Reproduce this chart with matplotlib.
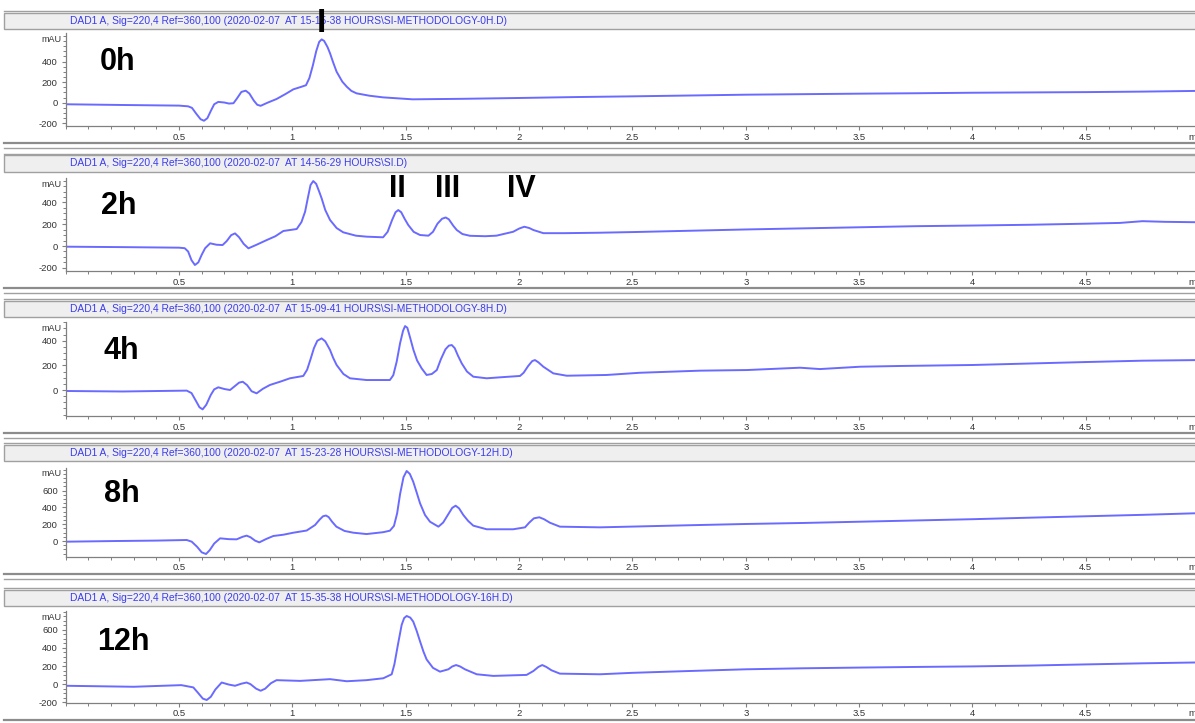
import matplotlib
matplotlib.use("Agg")
import matplotlib.pyplot as plt
from matplotlib.patches import Rectangle
from matplotlib.lines import Line2D
from matplotlib.ticker import FixedLocator, MultipleLocator
import matplotlib.transforms as mtrans

plt.rcParams['font.family'] = ['Liberation Sans', 'DejaVu Sans']

# retention time (min) / absorbance (mAU) for each run
t_0h = [0.00, 0.25, 0.50, 0.54, 0.557, 0.577, 0.595, 0.61, 0.625, 0.64, 0.655, 0.673, 0.70, 0.72,
        0.74, 0.755, 0.775, 0.794, 0.81, 0.83, 0.845, 0.86, 0.89, 0.93, 0.97, 1.004, 1.04,
        1.06, 1.075, 1.09, 1.105, 1.118, 1.129, 1.14, 1.155, 1.166, 1.18, 1.195, 1.22, 1.24,
        1.26, 1.283, 1.34, 1.40, 1.53, 1.75, 2.0, 2.25, 2.5, 2.75, 3.0, 3.25, 3.5, 3.75, 4.0,
        4.25, 4.5, 4.75, 5.0]
y_0h = [-15, -22, -28, -35, -50, -110, -160, -175, -150, -80, -15, 8, 2, -8,
        -5, 40, 105, 117, 90, 20, -20, -30, 0, 36, 85, 130, 155,
        170, 240, 360, 500, 590, 615, 600, 540, 480, 390, 301, 205, 155,
        115, 91, 68, 52, 33, 38, 46, 55, 62, 70, 78, 83, 88, 92, 97,
        100, 103, 108, 115]

t_2h = [0.00, 0.25, 0.50, 0.525, 0.54, 0.555, 0.57, 0.585, 0.60, 0.615, 0.637, 0.665, 0.692,
        0.71, 0.73, 0.747, 0.765, 0.785, 0.806, 0.84, 0.887, 0.925, 0.96, 1.019, 1.04, 1.056,
        1.068, 1.08, 1.092, 1.105, 1.118, 1.129, 1.145, 1.166, 1.195, 1.224, 1.28, 1.327, 1.40,
        1.42, 1.44, 1.455, 1.467, 1.48, 1.495, 1.511, 1.535, 1.563, 1.60, 1.62, 1.64, 1.66,
        1.676, 1.69, 1.71, 1.725, 1.75, 1.783, 1.85, 1.90, 1.974, 2.0, 2.023, 2.045, 2.063,
        2.107, 2.2, 2.35, 2.5, 2.75, 3.0, 3.25, 3.5, 3.75, 4.0, 4.25, 4.5, 4.65, 4.75, 4.85, 5.0]
y_2h = [-6, -10, -15, -20, -50, -130, -174, -150, -80, -20, 25, 12, 9,
        45, 100, 116, 80, 20, -21, 10, 55, 90, 138, 156, 220, 315,
        440, 560, 596, 570, 500, 437, 330, 239, 165, 126, 95, 86, 80,
        130, 240, 310, 330, 310, 250, 193, 130, 101, 95, 130, 205, 250,
        262, 245, 185, 147, 110, 94, 90, 95, 131, 160, 177, 165, 147,
        118, 118, 122, 128, 140, 152, 162, 172, 182, 188, 195, 205, 212, 228, 222, 218]

t_4h = [0.0, 0.25, 0.534, 0.555, 0.575, 0.59, 0.604, 0.62, 0.64, 0.655, 0.673, 0.70, 0.725,
        0.745, 0.765, 0.781, 0.80, 0.82, 0.842, 0.87, 0.901, 0.95, 0.989, 1.048, 1.065, 1.08,
        1.095, 1.11, 1.129, 1.145, 1.166, 1.18, 1.195, 1.225, 1.254, 1.327, 1.43, 1.445, 1.46,
        1.475, 1.488, 1.497, 1.507, 1.52, 1.534, 1.55, 1.57, 1.592, 1.615, 1.637, 1.655, 1.675,
        1.69, 1.703, 1.716, 1.73, 1.747, 1.77, 1.798, 1.857, 1.916, 2.004, 2.02, 2.04, 2.058,
        2.07, 2.085, 2.107, 2.151, 2.21, 2.386, 2.533, 2.798, 3.004, 3.239, 3.327, 3.504, 3.68,
        4.0, 4.25, 4.5, 4.75, 5.0]
y_4h = [-8, -12, -5, -25, -90, -140, -157, -120, -40, 5, 22, 8, 0,
        30, 60, 67, 40, -10, -27, 10, 41, 70, 95, 114, 165, 250,
        340, 400, 419, 395, 325, 260, 203, 130, 95, 81, 81, 120, 230,
        380, 480, 519, 505, 420, 325, 240, 176, 122, 130, 162, 250, 330,
        360, 365, 340, 280, 216, 150, 108, 95, 103, 114, 140, 195, 235,
        243, 225, 189, 135, 116, 122, 140, 157, 162, 181, 170, 189, 195,
        203, 215, 227, 238, 243]

t_8h = [0.0, 0.225, 0.4, 0.534, 0.556, 0.58, 0.60, 0.619, 0.635, 0.655, 0.681, 0.72, 0.754,
        0.78, 0.798, 0.815, 0.835, 0.854, 0.885, 0.916, 0.96, 1.004, 1.063, 1.1, 1.12, 1.135,
        1.148, 1.16, 1.175, 1.194, 1.23, 1.269, 1.327, 1.40, 1.43, 1.448, 1.462, 1.475, 1.49,
        1.504, 1.518, 1.533, 1.548, 1.563, 1.585, 1.607, 1.644, 1.665, 1.69, 1.705, 1.72, 1.735,
        1.754, 1.775, 1.798, 1.857, 1.974, 2.026, 2.045, 2.065, 2.089, 2.11, 2.136, 2.18, 2.357,
        2.5, 2.75, 3.0, 3.25, 3.5, 3.75, 4.0, 4.25, 4.5, 4.75, 5.0]
y_8h = [-8, 0, 5, 12, -8, -70, -135, -155, -110, -30, 32, 22, 20,
        50, 64, 45, 5, -16, 25, 60, 75, 99, 125, 191, 255, 295,
        304, 285, 230, 171, 120, 99, 83, 105, 123, 180, 330, 560, 760,
        835, 800, 707, 580, 450, 310, 230, 171, 220, 330, 395, 421, 390,
        310, 240, 183, 140, 140, 163, 220, 270, 283, 260, 218, 171, 163,
        172, 188, 203, 215, 230, 245, 260, 278, 295, 312, 332]

t_12h = [0.0, 0.3, 0.51, 0.563, 0.585, 0.605, 0.622, 0.64, 0.66, 0.688, 0.72, 0.747, 0.775,
         0.798, 0.815, 0.84, 0.86, 0.88, 0.905, 0.93, 1.034, 1.166, 1.24, 1.327, 1.401, 1.438,
         1.45, 1.465, 1.482, 1.493, 1.504, 1.52, 1.533, 1.548, 1.563, 1.578, 1.592, 1.62, 1.651,
         1.688, 1.705, 1.722, 1.74, 1.761, 1.813, 1.886, 2.033, 2.063, 2.085, 2.102, 2.12, 2.143,
         2.18, 2.357, 2.5, 2.75, 3.0, 3.25, 3.5, 3.75, 4.0, 4.25, 4.5, 4.75, 5.0]
y_12h = [-18, -29, -11, -36, -100, -160, -175, -140, -60, 18, -5, -18, 5,
         18, 0, -50, -73, -50, 10, 44, 36, 55, 32, 44, 65, 109,
         220, 430, 655, 730, 753, 735, 691, 590, 473, 360, 273, 180, 138,
         164, 195, 211, 195, 164, 109, 91, 102, 145, 190, 211, 190, 153,
         116, 109, 125, 145, 164, 175, 183, 190, 196, 205, 218, 230, 240]

runs = ["0h", "2h", "4h", "8h", "12h"]
times = [t_0h, t_2h, t_4h, t_8h, t_12h]
signals = [y_0h, y_2h, y_4h, y_8h, y_12h]
titles = [
    "DAD1 A, Sig=220,4 Ref=360,100 (2020-02-07  AT 15-15-38 HOURS\\SI-METHODOLOGY-0H.D)",
    "DAD1 A, Sig=220,4 Ref=360,100 (2020-02-07  AT 14-56-29 HOURS\\SI.D)",
    "DAD1 A, Sig=220,4 Ref=360,100 (2020-02-07  AT 15-09-41 HOURS\\SI-METHODOLOGY-8H.D)",
    "DAD1 A, Sig=220,4 Ref=360,100 (2020-02-07  AT 15-23-28 HOURS\\SI-METHODOLOGY-12H.D)",
    "DAD1 A, Sig=220,4 Ref=360,100 (2020-02-07  AT 15-35-38 HOURS\\SI-METHODOLOGY-16H.D)",
]
ylims = [(-226, 677), (-229, 624), (-211, 552), (-187, 874), (-205, 808)]
yticks = [[-200, 0, 200, 400], [-200, 0, 200, 400], [0, 200, 400],
          [0, 200, 400, 600], [-200, 0, 200, 400, 600]]
xticks = [0.5, 1, 1.5, 2, 2.5, 3, 3.5, 4, 4.5]
peak_names = ["II", "III", "IV"]
peak_times = [1.463, 1.683, 2.01]

# layout in pixels
W, H = 1195, 723
px_per_min = 226.7
x0 = 65.7
ax_top = [33, 178, 322, 467.7, 611]
ax_bot = [126, 271, 416, 556.7, 702.7]
title_y = [20.7, 163.5, 309.3, 452.7, 597.7]
label_y = [62, 206, 351, 494, 642]
label_x = [100, 101, 103, 104, 97]

line_col = "#6a6aff"
title_col = "#3b3bf0"
frame_col = "#a0a0a0"

fig = plt.figure(figsize=(W / 100, H / 100), dpi=100)
fig.patch.set_facecolor("white")


def fy(py):
    return 1 - py / H


xmax = 5.3
axes = []
for k in range(5):
    # header strip and separator lines
    fig.add_artist(Rectangle((0.003, fy(title_y[k] + 8)), 1.0, 16 / H, transform=fig.transFigure,
                             facecolor="#efefef", edgecolor=frame_col, lw=1.0))
    fig.add_artist(Line2D([0.003, 1], [fy(title_y[k] - 10)] * 2, color=frame_col, lw=1.0))
    fig.add_artist(Line2D([0.003, 1], [fy(ax_bot[k] + 17)] * 2, color="#8c8c8c", lw=1.6))
    fig.add_artist(Line2D([0.003, 1], [fy(ax_bot[k] + 22)] * 2, color=frame_col, lw=1.0))
    fig.text(70 / W, fy(title_y[k]), titles[k], color=title_col, fontsize=7.4,
             ha="left", va="center")

    ax = fig.add_axes([x0 / W, fy(ax_bot[k]), xmax * px_per_min / W,
                       (ax_bot[k] - ax_top[k]) / H])
    ax.plot(times[k], signals[k], color=line_col, lw=1.4, solid_joinstyle="round")
    ax.set_xlim(0, xmax)
    ax.set_ylim(*ylims[k])
    for s in ["top", "right"]:
        ax.spines[s].set_visible(False)
    for s in ["left", "bottom"]:
        ax.spines[s].set_color("#808080")
        ax.spines[s].set_linewidth(0.9)
    ax.xaxis.set_major_locator(FixedLocator(xticks))
    ax.set_xticklabels([f"{v:g}" for v in xticks])
    ax.xaxis.set_minor_locator(MultipleLocator(0.1))
    ax.yaxis.set_major_locator(FixedLocator(yticks[k]))
    ax.set_yticklabels([str(v) for v in yticks[k]])
    ax.yaxis.set_minor_locator(MultipleLocator(50))
    ax.tick_params(which="both", direction="out", color="#808080", labelsize=6.8,
                   labelcolor="#333333")
    ax.tick_params(which="major", length=3.2, width=0.8)
    ax.tick_params(which="minor", length=2.4, width=0.7)
    ax.tick_params(axis="x", pad=1.5)
    ax.tick_params(axis="y", pad=2.5)
    ax.annotate("mAU", xy=(0, 1), xycoords="axes fraction", xytext=(-3, -4.5),
                textcoords="offset points", ha="right", va="center", fontsize=6.5,
                color="#333333")
    ax.annotate("min", xy=(4.951, 0), xycoords=("data", "axes fraction"), xytext=(0, -8),
                textcoords="offset points", ha="left", va="center", fontsize=6.8,
                color="#333333")
    fig.text(label_x[k] / W, fy(label_y[k]), runs[k], fontsize=22, fontweight="bold",
             ha="left", va="center")
    axes.append(ax)

# peak markers
tr = mtrans.blended_transform_factory(axes[0].transData, fig.transFigure)
fig.text(1.129, fy(23), "I", transform=tr, fontsize=24, fontweight="bold",
         ha="center", va="center")
tr2 = mtrans.blended_transform_factory(axes[1].transData, fig.transFigure)
for name, tp in zip(peak_names, peak_times):
    fig.text(tp, fy(189), name, transform=tr2, fontsize=22, fontweight="bold",
             ha="center", va="center")

fig.savefig("out.png", dpi=100)
